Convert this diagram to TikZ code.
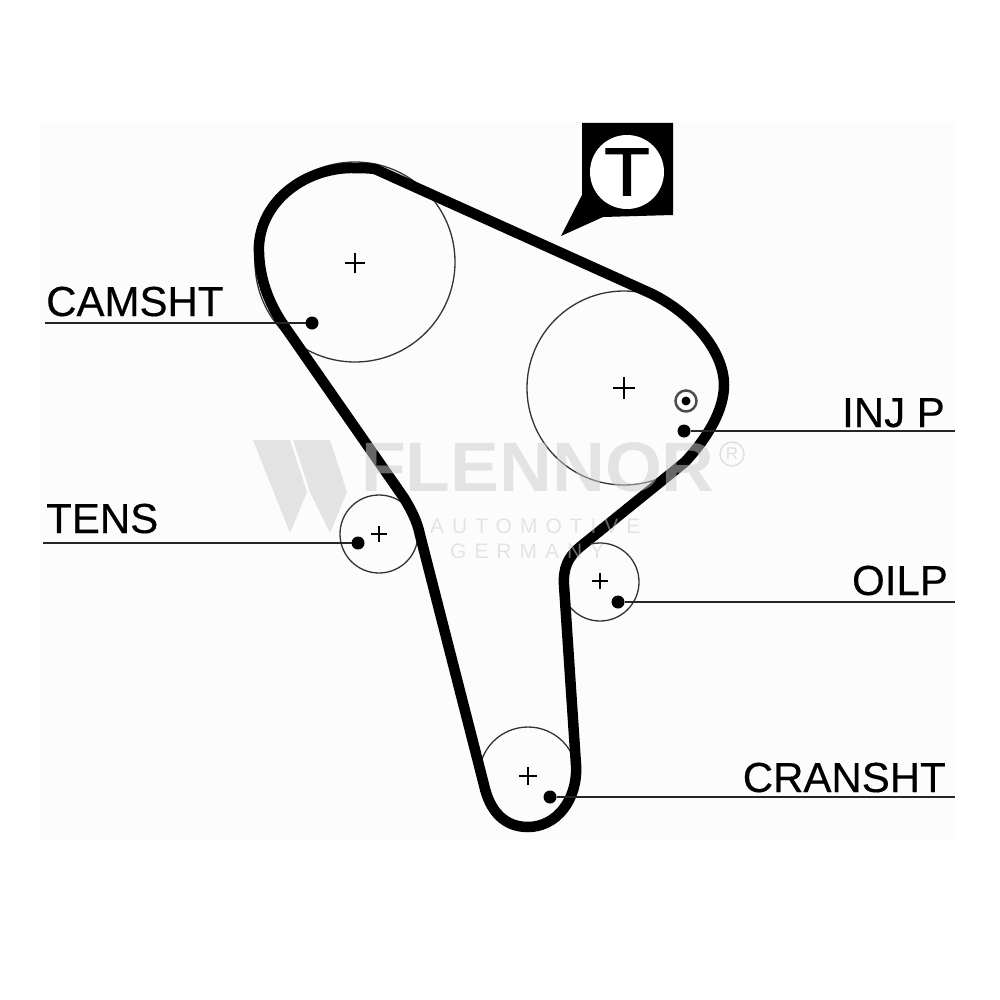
\documentclass[tikz,border=0pt]{standalone}
\usepackage{fontspec}
\setmainfont{Liberation Sans}
\newfontfamily\wmfont[LetterSpace=38]{Liberation Sans}
\newfontfamily\tfont[FakeBold=1.6,FakeStretch=1.1]{Liberation Sans}
\newfontfamily\labfont[FakeBold=0.4]{Liberation Sans}
\usetikzlibrary{calc}
\tikzset{
  pulley/.style={circle,draw=black!80,line width=1.3pt,minimum size=#1,inner sep=0pt,outer sep=0pt},
  dotmark/.style={circle,fill=black,minimum size=13pt,inner sep=0pt,outer sep=0pt},
  leader/.style={draw=black!85,line width=2pt},
  lab/.style={font=\labfont\fontsize{42}{42}\selectfont,inner sep=0pt,anchor=base west,text=black},
  belt/.style={draw=black,line width=10.5pt,line join=round,line cap=round},
  wm/.style={fill=black!20,opacity=.5},
  wmt/.style={text=black!20,opacity=.5,inner sep=0pt,anchor=base west}
}
\begin{document}
\begin{tikzpicture}[x=1pt,y=-1pt]
\useasboundingbox (0,0) rectangle (1000,1000);
\fill[black!1] (40,122) rectangle (955,840);
% pulleys
\node[pulley=200pt] (cam) at (355,262) {};
\node[pulley=194pt] (inj) at (624,388) {};
\node[pulley=78pt] (tens) at (379,534) {};
\node[pulley=78pt] (oil) at (600,582) {};
\node[pulley=98pt] (crank) at (528,776) {};
% centre crosses
\draw[line width=2pt] (345,263)--(365,263) (355,253)--(355,273)
  (613,388)--(635,388) (624,377)--(624,399)
  (371,534)--(387,534) (379,526)--(379,542)
  (592,581)--(608,581) (600,573)--(600,589)
  (519,776)--(537,776) (528,767)--(528,785);
% belt
\draw[belt] (375,169) -- (650,293)
  .. controls (690,312) and (724,350) .. (724,385)
  .. controls (724,410) and (708,437) .. (685,462)
  -- (580,547)
  .. controls (568,557) and (563,568) .. (564,585)
  -- (576,765)
  .. controls (578,800) and (556,827) .. (528,827)
  .. controls (505,827) and (490,812) .. (484,785)
  -- (420,535)
  .. controls (417,520) and (410,508) .. (404,498)
  -- (285,327)
  .. controls (268,303) and (258,275) .. (259,245)
  .. controls (262,200) and (305,169) .. (350,168)
  .. controls (360,168) and (367,168) .. (375,169) -- cycle;
% marks
\node[dotmark] (dcam) at (312,323) {};
\node[dotmark] (dtens) at (358,543) {};
\node[dotmark] (dinj) at (684,431) {};
\node[dotmark] (doil) at (618,602) {};
\node[dotmark] (dcrank) at (550,797) {};
\node[circle,draw=black!70,line width=2.5pt,fill=white,minimum size=21pt,inner sep=0pt] (tgt) at (686,401) {};
\node[circle,fill=black,minimum size=9pt,inner sep=0pt] (tgtc) at (686,401) {};
% leaders
\coordinate (lcam) at (45,323);
\coordinate (ltens) at (43,543);
\coordinate (linj) at (955,431);
\coordinate (loil) at (955,602);
\coordinate (lcrank) at (955,797);
\draw[leader] (lcam) -- (dcam);
\draw[leader] (ltens) -- (dtens);
\draw[leader] (linj) -- (dinj);
\draw[leader] (loil) -- (doil);
\draw[leader] (lcrank) -- (dcrank);
% labels
\node[lab] (tcam) at (46,316) {CAMSHT};
\node[lab] (ttens) at (46,533) {TENS};
\node[lab,anchor=base east] (tinj) at (945,427) {INJ P};
\node[lab,anchor=base east] (toil) at (948,595) {OILP};
\node[lab,anchor=base east] (tcrank) at (946,792) {CRANSHT};
% callout
\fill[black] (582,123) -- (673,123) -- (673,215) -- (603,217) -- (561,236) -- (582,195) -- cycle;
\node[circle,fill=white,minimum size=74pt,inner sep=0pt,font=\tfont\fontsize{68}{68}\selectfont] (tcall) at (627,172) {T};
% watermark
\fill[wm] (253,440) -- (290,440) -- (307,492) -- (290,533) -- cycle;
\fill[wm] (293,440) -- (330,440) -- (347,492) -- (330,533) -- (310,492) -- cycle;
\node[wmt,xscale=1.045,font=\bfseries\fontsize{70}{70}\selectfont] (wm1) at (361,491) {FLENNOR};
\node[circle,draw=black!12,line width=1.5pt,minimum size=24pt,inner sep=0pt,text=black!12,font=\fontsize{17}{17}\selectfont] (wm2) at (732,454) {R};
\node[wmt,font=\wmfont\fontsize{21}{21}\selectfont] (wm3) at (430,533) {AUTOMOTIVE};
\node[wmt,font=\wmfont\fontsize{21}{21}\selectfont] (wm4) at (450,558) {GERMANY};
\end{tikzpicture}
\end{document}
